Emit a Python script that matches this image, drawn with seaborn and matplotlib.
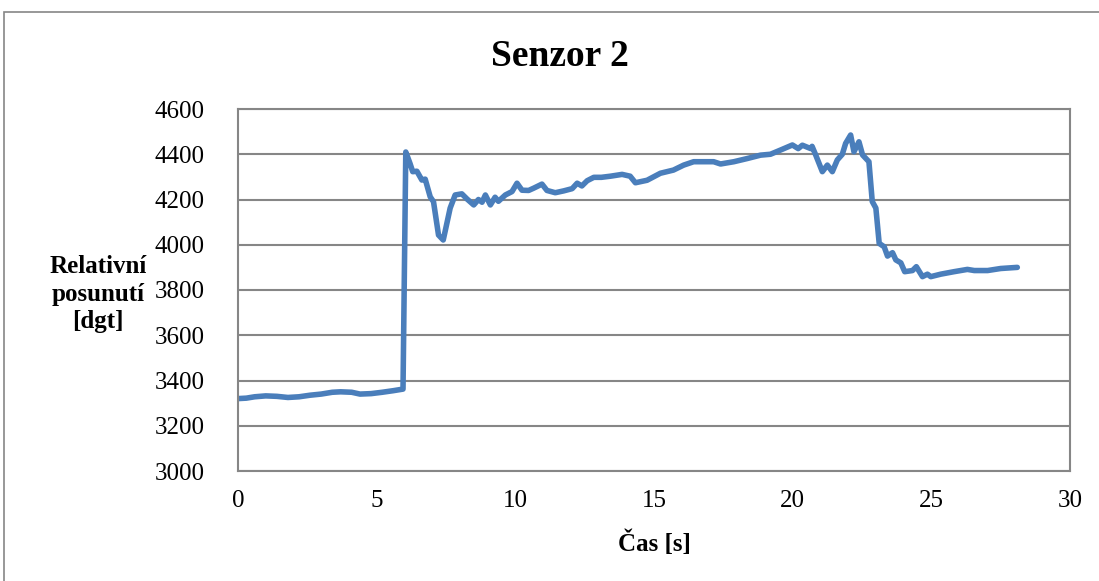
import matplotlib
matplotlib.use("Agg")
import matplotlib.pyplot as plt
from matplotlib.patches import Rectangle
import pandas as pd
import seaborn as sns

# Sensor 2 readings: time [s] and relative displacement [dgt]
cas = [0.0, 0.3, 0.6, 1.0, 1.4, 1.8, 2.2, 2.6, 3.0, 3.4, 3.7, 4.1, 4.4, 4.8, 5.2,
       5.6, 5.95, 6.05, 6.2, 6.3, 6.45, 6.63, 6.75, 6.93, 7.05, 7.23, 7.4, 7.47,
       7.65, 7.83, 8.07, 8.26, 8.5, 8.67, 8.8, 8.92, 9.1, 9.27, 9.39, 9.64, 9.88,
       10.06, 10.24, 10.48, 10.66, 10.96, 11.14, 11.44, 11.74, 12.05, 12.23, 12.4,
       12.59, 12.83, 13.1, 13.43, 13.85, 14.14, 14.33, 14.75, 15.23, 15.7, 16.07,
       16.43, 16.8, 17.15, 17.4, 17.88, 18.36, 18.84, 19.2, 19.57, 19.99, 20.2,
       20.35, 20.65, 20.7, 20.83, 21.07, 21.25, 21.43, 21.61, 21.79, 21.91, 22.09,
       22.21, 22.39, 22.52, 22.75, 22.87, 23.0, 23.12, 23.3, 23.42, 23.6, 23.72,
       23.9, 24.04, 24.32, 24.46, 24.68, 24.86, 24.98, 25.34, 25.82, 26.3, 26.55,
       27.03, 27.5, 28.1]
posunuti = [3320, 3322, 3328, 3332, 3330, 3325, 3328, 3335, 3340, 3348, 3350, 3348,
            3340, 3342, 3348, 3355, 3362, 4410, 4360, 4323, 4325, 4286, 4290, 4212,
            4190, 4043, 4021, 4060, 4162, 4220, 4225, 4202, 4176, 4200, 4188, 4220,
            4176, 4210, 4192, 4220, 4235, 4272, 4241, 4240, 4250, 4268, 4240, 4230,
            4238, 4248, 4272, 4260, 4283, 4298, 4298, 4303, 4311, 4303, 4274, 4285,
            4316, 4330, 4352, 4367, 4367, 4367, 4357, 4367, 4381, 4396, 4400, 4419,
            4441, 4425, 4440, 4425, 4435, 4397, 4323, 4352, 4323, 4375, 4400, 4448,
            4485, 4411, 4455, 4397, 4367, 4191, 4162, 4006, 3991, 3950, 3965, 3933,
            3920, 3881, 3886, 3903, 3859, 3870, 3859, 3870, 3881, 3891, 3886, 3886,
            3895, 3900]

x_ticks = [0, 5, 10, 15, 20, 25, 30]
y_ticks = [3000, 3200, 3400, 3600, 3800, 4000, 4200, 4400, 4600]

df = pd.DataFrame({"cas": cas, "posunuti": posunuti})

sns.set_style("white")
plt.rcParams["font.family"] = ["Liberation Serif", "DejaVu Serif"]
plt.rcParams["text.color"] = "black"

grid_gray = "#868686"
fig = plt.figure(figsize=(10.99, 5.81), dpi=100)

# outer chart frame
fig.patches.append(Rectangle((4 / 1099, -0.1), 1.2, 1.1 - 12 / 581,
                             transform=fig.transFigure, fill=False,
                             edgecolor=grid_gray, linewidth=1.2))

ax = fig.add_axes([238 / 1099, 1 - 471 / 581, (1070 - 238) / 1099, (471 - 109) / 581])

sns.lineplot(data=df, x="cas", y="posunuti", ax=ax, color="#4A7EBB",
             linewidth=4.0, solid_joinstyle="round", solid_capstyle="round")

ax.set_xlim(0, 30)
ax.set_ylim(3000, 4600)
ax.set_xticks(x_ticks)
ax.set_yticks(y_ticks)
ax.set_xticklabels([str(t) for t in x_ticks])
ax.set_yticklabels([str(t) for t in y_ticks])
ax.tick_params(axis="both", length=0, labelsize=18, colors="black")
ax.tick_params(axis="y", pad=24)
ax.tick_params(axis="x", pad=14)

ax.yaxis.grid(True, color=grid_gray, linewidth=1.5)
ax.xaxis.grid(False)
ax.set_axisbelow(True)
for side in ax.spines.values():
    side.set_visible(True)
    side.set_color(grid_gray)
    side.set_linewidth(1.5)

ax.set_xlabel("")
ax.set_ylabel("")

fig.text(560 / 1099, 1 - 57 / 581, "Senzor 2", ha="center", va="center",
         fontsize=27, fontweight="bold", color="black")
fig.text(654 / 1099, 1 - 543 / 581, "Čas [s]", ha="center", va="center",
         fontsize=18, fontweight="bold", color="black")
fig.text(98 / 1099, 1 - 294 / 581, "Relativní\nposunutí\n[dgt]", ha="center",
         va="center", fontsize=18, fontweight="bold", linespacing=1.25,
         color="black")

fig.savefig("out.png", dpi=100)
